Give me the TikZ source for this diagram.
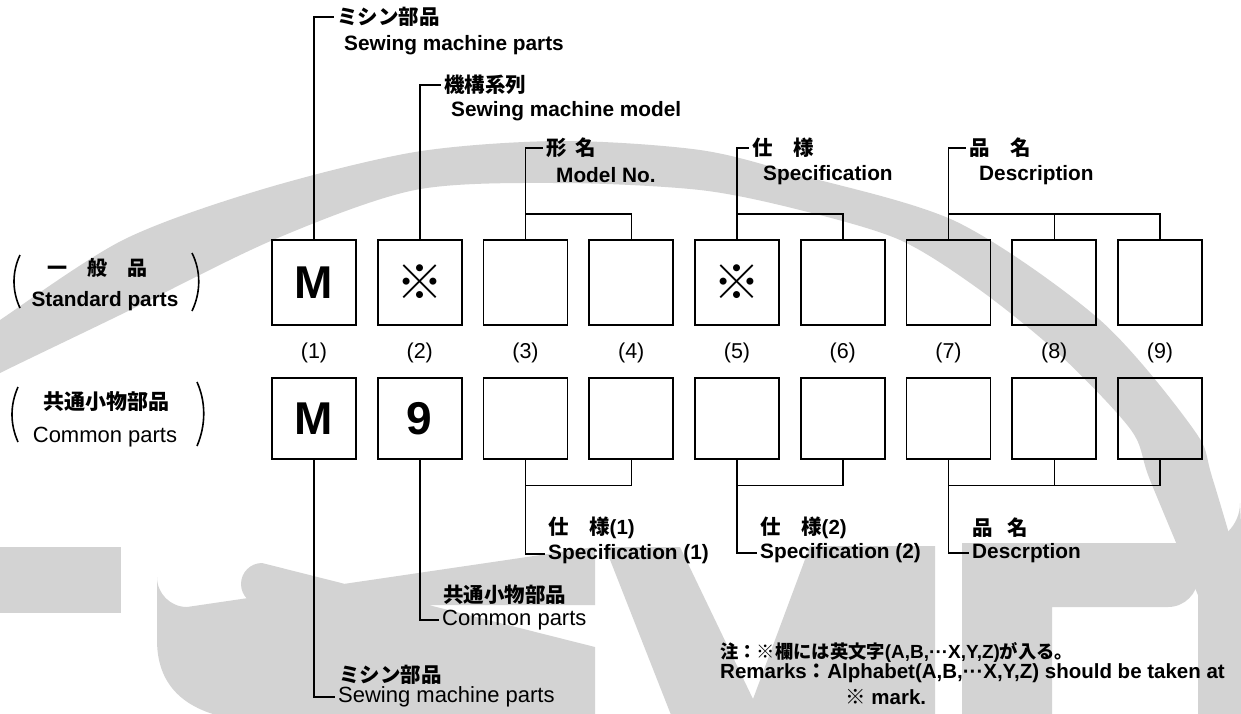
\documentclass[tikz,border=0pt]{standalone}
\usepackage{fontspec}
\setmainfont{Liberation Sans}
\newfontfamily\jp{Noto Sans CJK JP}
\definecolor{wm}{RGB}{211,211,211}
\newcommand\fsz[1]{\fontsize{#1}{#1}\selectfont}
\begin{document}
\begin{tikzpicture}[x=1pt,y=-1pt,
  box/.style={draw,line width=1.7pt,minimum width=84pt,inner sep=0pt,font=\bfseries\fsz{46}},
  tbox/.style={box,minimum height=85pt},
  bbox/.style={box,minimum height=81pt},
  conn/.style={line width=1.5pt},
  lbl/.style={anchor=west,inner sep=3pt},
  jb/.style={lbl,font=\jp\bfseries\fsz{20.5}},
  eb/.style={lbl,font=\bfseries\fsz{20.8}},
  er/.style={lbl,font=\fsz{22}},
  num/.style={font=\fsz{21.5}},
  paren/.style={line width=1.6pt},
  kome/.style={font=\jp\mdseries\fsz{47}}
]
\useasboundingbox (0,0) rectangle (1241,713);
% ---------- watermark ----------
\begin{scope}
\clip (0,0) rectangle (1241,713);
\fill[wm] plot[smooth] coordinates {(-20,335) (0,320) (123,240) (260,190) (415,152) (560,141) (700,150) (800,175) (957,222) (1100,320) (1194,430) (1213,480) (1260,640)}
 -- plot[smooth] coordinates {(1250,720) (1200,600) (1150,480) (1131,430) (1060,355) (980,290) (900,240) (800,210) (700,190) (560,183) (415,190) (273,240) (120,315) (0,373) (-20,385)} -- cycle;
\fill[wm] (0,547) rectangle (121,613);
\fill[wm] (157,640) -- (157,577) arc[start angle=180,end angle=90,radius=30] -- (595,547) -- (595,605) -- (262,605)
  arc[start angle=90,end angle=180,radius=21] arc[start angle=180,end angle=270,radius=21] -- (595,647) -- (595,720) -- (240,720)
  .. controls (190,713) and (157,690) .. (157,640) -- cycle;
\fill[wm] (605,547) -- (680,547) -- (753,699) -- (810,546) -- (935,546) -- (935,720) -- (673,720) -- cycle;
\fill[wm,even odd rule] (962,543) -- (1200,543) arc[start angle=90,end angle=0,radius=40] -- (1250,720) -- (962,720) -- cycle
  (1052,720) -- (1052,607) -- (1168,607) arc[start angle=90,end angle=0,radius=30] -- (1198,720) -- cycle;
\end{scope}
% ---------- boxes ----------
\node[tbox] (t1) at (314,282.5) {M};
\node[tbox,kome] (t2) at (419.75,282.5) {※};
\node[tbox] (t3) at (525.5,282.5) {};
\node[tbox] (t4) at (631.25,282.5) {};
\node[tbox,kome] (t5) at (737,282.5) {※};
\node[tbox] (t6) at (842.75,282.5) {};
\node[tbox] (t7) at (948.5,282.5) {};
\node[tbox] (t8) at (1054.25,282.5) {};
\node[tbox] (t9) at (1160,282.5) {};
\node[bbox] (b1) at (314,418.5) {M};
\node[bbox] (b2) at (419.75,418.5) {9};
\node[bbox] (b3) at (525.5,418.5) {};
\node[bbox] (b4) at (631.25,418.5) {};
\node[bbox] (b5) at (737,418.5) {};
\node[bbox] (b6) at (842.75,418.5) {};
\node[bbox] (b7) at (948.5,418.5) {};
\node[bbox] (b8) at (1054.25,418.5) {};
\node[bbox] (b9) at (1160,418.5) {};
% ---------- numbers ----------
\node[num] (n1) at (314,353) {(1)};
\node[num] (n2) at (419.75,353) {(2)};
\node[num] (n3) at (525.5,353) {(3)};
\node[num] (n4) at (631.25,353) {(4)};
\node[num] (n5) at (737,353) {(5)};
\node[num] (n6) at (842.75,353) {(6)};
\node[num] (n7) at (948.5,353) {(7)};
\node[num] (n8) at (1054.25,353) {(8)};
\node[num] (n9) at (1160,353) {(9)};
% ---------- left labels ----------
\node[font=\jp\bfseries\fsz{20}] (sj) at (97,268) {一　般　品};
\node[font=\bfseries\fsz{20.8}] (se) at (105,301) {Standard parts};
\node[font=\jp\bfseries\fsz{21}] (cj) at (106,402) {共通小物部品};
\node[font=\fsz{22}] (ce) at (105,437) {Common parts};
\draw[paren] (20,255) .. controls (12,272) and (12,291) .. (20,308);
\draw[paren] (192,253) .. controls (201,271) and (201,292) .. (192,311);
\draw[paren] (18,387) .. controls (10,405) and (10,424) .. (18,442);
\draw[paren] (197,382) .. controls (206,402) and (206,425) .. (197,446);
% ---------- top labels ----------
\node[jb] (j1) at (334,17) {ミシン部品};
\node[eb] (e1) at (341,45) {Sewing machine parts};
\node[jb] (j2) at (441,85) {機構系列};
\node[eb] (e2) at (448,111) {Sewing machine model};
\node[jb] (j3) at (543,148) {形\hspace{0.45em}名};
\node[eb] (e3) at (553,175) {Model No.};
\node[jb] (j5) at (749,148) {仕　様};
\node[eb] (e5) at (760,175) {Specification};
\node[jb] (j7) at (966,148) {品　名};
\node[eb] (e7) at (976,175) {Description};
\coordinate (ya) at (0,214);
\draw[conn] (t1.north) |- (j1.west);
\draw[conn] (t2.north) |- (j2.west);
\draw[conn] (t3.north) |- (j3.west);
\draw[conn] (t4.north) |- (t3.north |- ya);
\draw[conn] (t5.north) |- (j5.west);
\draw[conn] (t6.north) |- (t5.north |- ya);
\draw[conn] (t7.north) |- (j7.west);
\draw[conn] (t9.north) |- (t7.north |- ya);
\draw[conn] (t8.north) -- (t8.north |- ya);
% ---------- bottom labels ----------
\node[jb] (jb1) at (336,675) {ミシン部品};
\node[er] (lb1) at (335,697) {Sewing machine parts};
\node[jb] (jb2) at (440,595) {共通小物部品};
\node[er] (lb2) at (439,620) {Common parts};
\node[jb] (jb3) at (545,528) {仕　様{\bfseries\rmfamily(1)}};
\node[eb] (lb3) at (545,554) {Specification (1)};
\node[jb] (jb5) at (757,528) {仕　様{\bfseries\rmfamily(2)}};
\node[eb] (lb5) at (757,553) {Specification (2)};
\node[jb] (jb7) at (969,528) {品\hspace{0.7em}名};
\node[eb] (lb7) at (969,553) {Descrption};
\coordinate (yb) at (0,485.5);
\draw[conn] (b1.south) |- (lb1.west);
\draw[conn] (b2.south) |- (lb2.west);
\draw[conn] (b3.south) |- (lb3.west);
\draw[conn] (b4.south) |- (b3.south |- yb);
\draw[conn] (b5.south) |- (lb5.west);
\draw[conn] (b6.south) |- (b5.south |- yb);
\draw[conn] (b7.south) |- (lb7.west);
\draw[conn] (b9.south) |- (b7.south |- yb);
\draw[conn] (b8.south) -- (b8.south |- yb);
% ---------- remarks ----------
\node[lbl,font=\bfseries\fsz{19}] (r1) at (717,652) {{\jp\fsz{18.3}注：※欄には英文字}(A,B,···X,Y,Z){\jp\fsz{18.3}が入る。}};
\node[lbl,font=\bfseries\fsz{20.5}] (r2) at (717,673) {Remarks{\jp ：}Alphabet(A,B,···X,Y,Z) should be taken at};
\node[lbl,font=\bfseries\fsz{20.5}] (r3) at (842,697) {{\jp\mdseries ※}\ mark.};
\end{tikzpicture}
\end{document}
